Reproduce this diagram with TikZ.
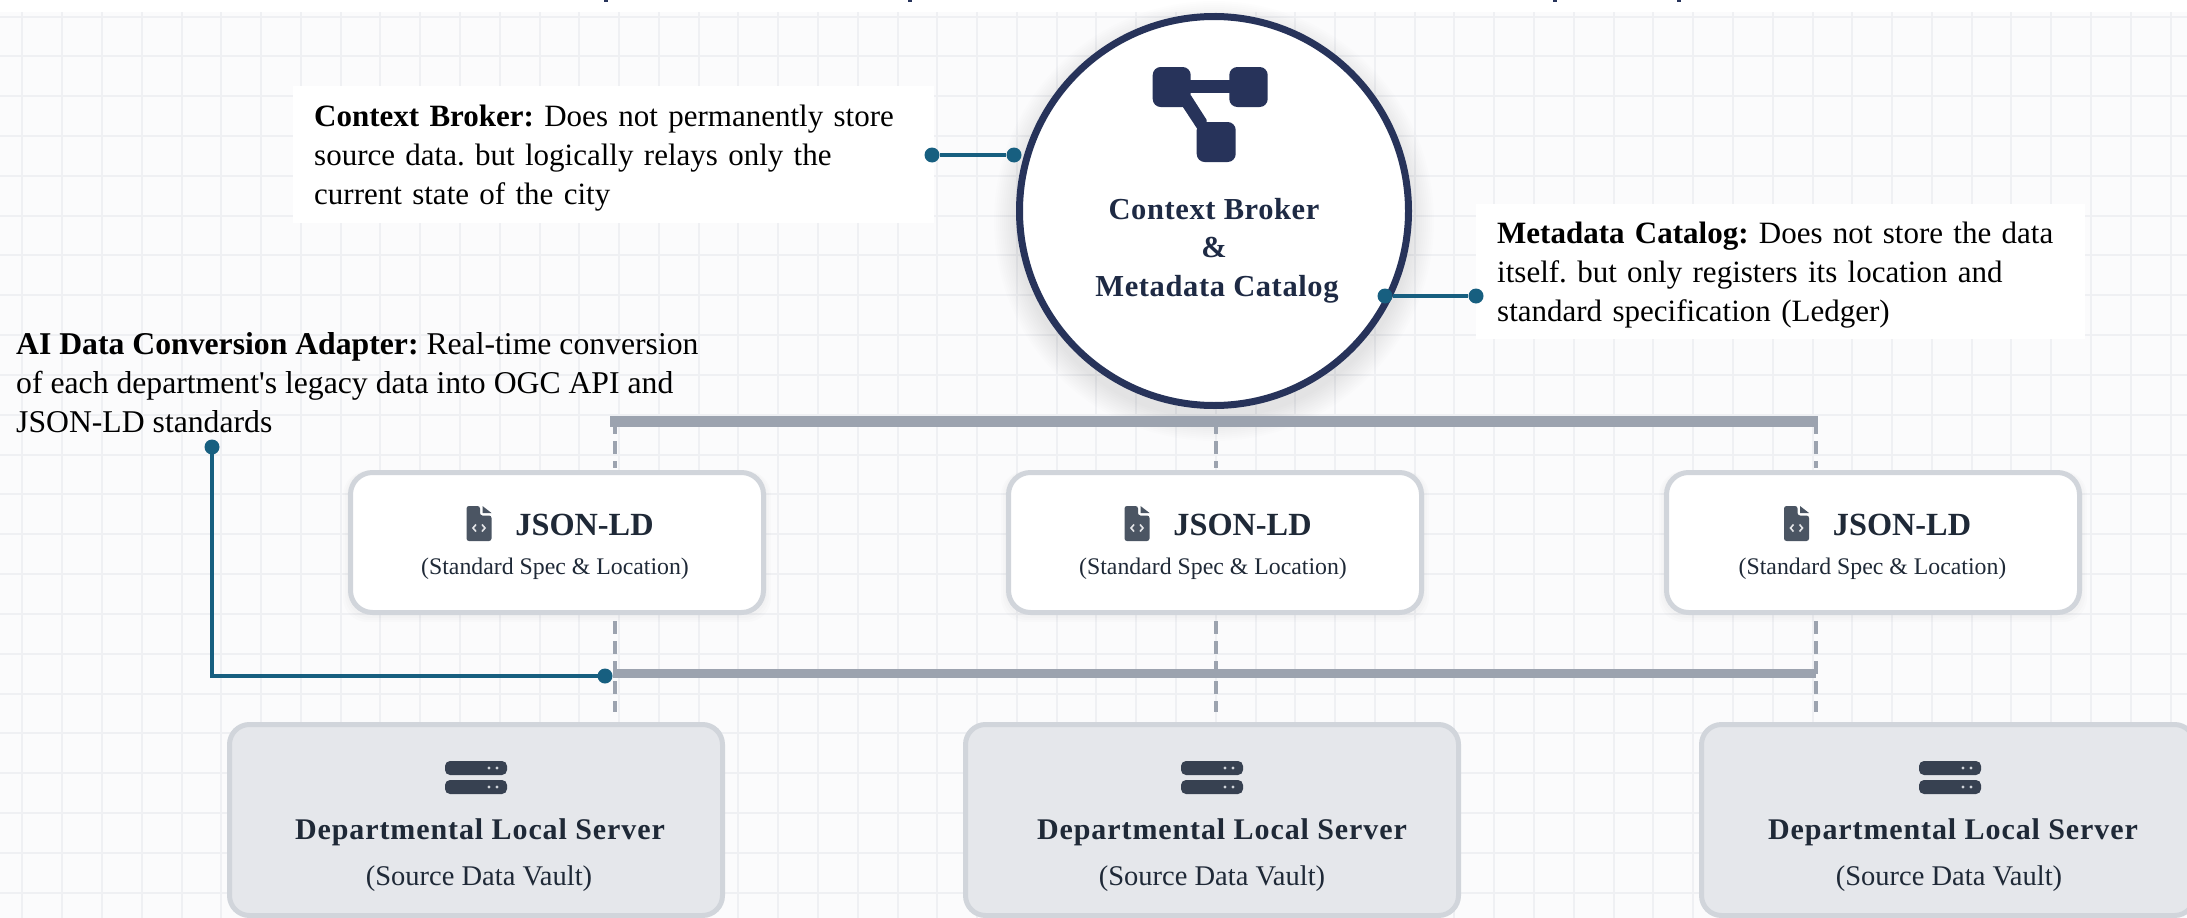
\documentclass[tikz,border=0pt]{standalone}
\usepackage{fontspec}
\setmainfont{Liberation Serif}
\newfontfamily\rawserif{Liberation Serif}
\frenchspacing
\definecolor{bgc}{HTML}{FBFBFC}
\definecolor{gridc}{HTML}{EFF0F3}
\definecolor{navy}{HTML}{27335A}
\definecolor{hubink}{HTML}{1E2A44}
\definecolor{teal}{HTML}{175F80}
\definecolor{barc}{HTML}{9CA3AF}
\definecolor{edgec}{HTML}{D1D5DB}
\definecolor{srvfill}{HTML}{E5E7EB}
\definecolor{ink}{HTML}{1F2937}
\definecolor{iconfile}{HTML}{4B5563}
\definecolor{iconsrv}{HTML}{374151}
\tikzset{
  x=1pt,y=-1pt,
  note/.style={fill=white,inner xsep=21pt,inner ysep=0pt,align=left,font=\fontsize{31}{39}\selectfont,text=black},
  plainnote/.style={inner sep=0pt,align=left,font=\fontsize{31.7}{39}\selectfont,text=black,anchor=north west},
  jsonbox/.style={draw=edgec,line width=5pt,fill=white,rounded corners=22pt,minimum width=413pt,minimum height=140pt,inner sep=0pt},
  srvbox/.style={draw=edgec,line width=5pt,fill=srvfill,rounded corners=20pt,minimum width=493pt,minimum height=191pt,inner sep=0pt},
  hub/.style={circle,draw=navy,line width=7pt,fill=white,minimum size=389pt,inner sep=0pt},
  dotn/.style={circle,fill=teal,minimum size=15pt,inner sep=0pt},
  tealline/.style={draw=teal,line width=4pt},
  thickbar/.style={draw=barc,line width=11pt},
  thinbar/.style={draw=barc,line width=9pt},
  dashline/.style={draw=barc,line width=3.5pt,dash pattern=on 13pt off 7pt},
  lbl/.style={inner sep=0pt,anchor=base,text=ink},
  jt/.style={lbl,font=\fontsize{32.3}{36}\selectfont\bfseries},
  js/.style={lbl,font=\fontsize{23.8}{28}\selectfont},
  st/.style={lbl,font=\fontsize{30}{34}\selectfont\bfseries\addfontfeatures{LetterSpace=3}},
  ss/.style={lbl,font=\fontsize{28.5}{32}\selectfont},
  ht/.style={lbl,text=hubink,font=\fontsize{30.5}{34}\selectfont\bfseries\addfontfeatures{LetterSpace=2}},
  fileico/.pic={
    \fill[iconfile,rounded corners=2.5pt] (-12.5,-17.5) -- (1,-17.5) -- (1,-8) -- (12.5,-8) -- (12.5,17.5) -- (-12.5,17.5) -- cycle;
    \fill[iconfile] (3.5,-17.5) -- (12.5,-10.5) -- (3.5,-10.5) -- cycle;
    \draw[white!85!iconfile,line width=1.6pt] (-3,1) -- (-6,4.5) -- (-3,8) (3,1) -- (6,4.5) -- (3,8);
  },
  srvico/.pic={
    \fill[iconsrv,rounded corners=5pt] (-31,-16.5) rectangle (31,-2.5);
    \fill[iconsrv,rounded corners=5pt] (-31,2.5) rectangle (31,16.5);
    \fill[edgec] (13,-9.5) circle (1.7) (21,-9.5) circle (1.7) (13,9.5) circle (1.7) (21,9.5) circle (1.7);
  },
  hubico/.pic={
    \fill[navy,rounded corners=8pt] (-61.3,-20) rectangle (-23.3,20);
    \fill[navy,rounded corners=8pt] (15.3,-20) rectangle (53.7,20);
    \fill[navy,rounded corners=8pt] (-17.3,35) rectangle (21.7,75);
    \fill[navy] (-25,-7) rectangle (18,5.7);
    \fill[navy] (-23.3,8) -- (-7.3,33) -- (-7.3,45) -- (-17.3,41) -- (-31.3,19.7) -- cycle;
  }
}
\begin{document}
\begin{tikzpicture}
\useasboundingbox (0,0) rectangle (2187,918);
\clip (0,0) rectangle (2187,918);
% page and grid
\fill[white] (0,0) rectangle (2187,918);
\fill[bgc] (0,12) rectangle (2187,918);
\foreach \i in {0,...,54} \draw[gridc,line width=2pt] ({22.4+39.78*\i},12) -- ({22.4+39.78*\i},918);
\foreach \i in {0,...,22} \draw[gridc,line width=2pt] (0,{16.5+39.83*\i}) -- (2187,{16.5+39.83*\i});
% clipped title descenders
\foreach \px in {606,910,1555,1679} \fill[navy] (\px-2,0) rectangle (\px+2,2);
% shadows
\foreach \r in {2,4,...,24} \fill[black,opacity=0.006] (1214,221) circle ({198+24-\r});
\foreach \cx in {557,1215,1873} \foreach \g in {2,4,6} \fill[black,opacity=0.012,rounded corners=24pt] (\cx-208-\g,471) rectangle (\cx+208+\g,614+\g+2);
% nodes
\node[jsonbox] (json1) at (557,542.5) {};
\node[jsonbox] (json2) at (1215,542.5) {};
\node[jsonbox] (json3) at (1873,542.5) {};
\node[srvbox] (srv1) at (476,820) {};
\node[srvbox] (srv2) at (1212,820) {};
\node[srvbox] (srv3) at (1948,820) {};
\coordinate (t1) at (615,421);
\coordinate (t2) at (1216,421);
\coordinate (t3) at (1816,421);
\coordinate (b1) at (613,673);
\coordinate (b3) at (1816,673);
% dashed drops
\foreach \k in {1,2,3} {
  \draw[dashline] (t\k) -- ([yshift=2pt]t\k |- json\k.north);
  \draw[dashline] (t\k |- json\k.south) ++(0,6) -- ([yshift=10pt]t\k |- srv\k.north);
}
\coordinate (bt1) at (610,421);
\coordinate (bt3) at (1818,421);
\draw[thickbar] (bt1) -- (bt3);
\draw[thinbar] (b1) -- (b3);
\node[hub] (core) at (1214,211) {};
% box contents
\foreach \k/\cx in {1/558,2/1216,3/1875.5} {
  \pic at (\cx-79,523.5) {fileico};
  \node[jt] (jt\k) at (\cx+26.5,535) {JSON-LD};
  \node[js] (js\k) at (\cx-3,574) {(Standard Spec \& Location)};
}
\foreach \k/\cx/\sx/\vx in {1/476/480/479,2/1212/1222/1212,3/1950/1953/1949} {
  \pic at (\cx,777.5) {srvico};
  \node[st] (st\k) at (\sx,839) {Departmental Local Server};
  \node[ss] (ss\k) at (\vx,885) {(Source Data Vault)};
}
\pic at (1214,87) {hubico};
\node[ht] (h1) at (1214,219) {Context Broker};
\node[ht] (h2) at (1214,257) {\&};
\node[ht] (h3) at (1217,296) {Metadata Catalog};
% callouts
\node[note,minimum height=137pt,text width=599pt,anchor=west] (noteA) at (293,154.5) {\rule{0pt}{29pt}\textbf{Context Broker:} Does not permanently store\\source data. but logically relays only the\\current state of the city};
\node[note,minimum height=135pt,text width=567pt,anchor=west] (noteB) at (1476,271) {\rule{0pt}{29pt}\textbf{Metadata Catalog:} Does not store the data\\itself. but only registers its location and\\standard specification (Ledger)};
\node[plainnote] (noteC) at (16,332) {\textbf{AI Data Conversion Adapter:} Real-time conversion\\of each department{\rawserif'}s legacy data into OGC API and\\JSON-LD standards};
% teal leaders
\node[dotn] (a1) at (932,155) {};
\node[dotn] (a2) at (1014,155) {};
\draw[tealline] (a1) -- (a2);
\node[dotn] (m1) at (1385,296) {};
\node[dotn] (m2) at (1476,296) {};
\draw[tealline] (m1) -- (m2);
\node[dotn] (c1) at (212,447) {};
\node[dotn] (c2) at (605,676) {};
\draw[tealline] (c1.center) |- (c2.center);
\end{tikzpicture}
\end{document}
